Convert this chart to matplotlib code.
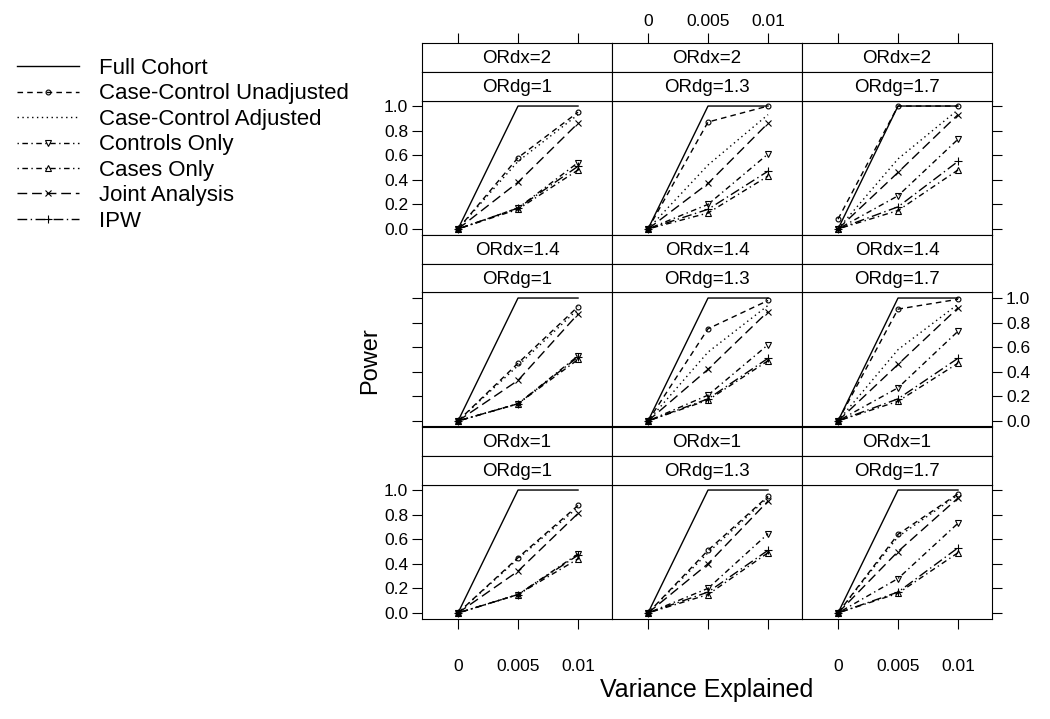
import matplotlib
matplotlib.use('Agg')
import matplotlib.pyplot as plt

plt.rcParams['font.family'] = ['Liberation Sans', 'DejaVu Sans']

# Power vs variance explained, 3x3 panels
# rows: ORdx = 2, 1.4, 1 ; cols: ORdg = 1, 1.3, 1.7

variance = [0, 0.005, 0.01]
x_ticklabels = ['0', '0.005', '0.01']
y_ticks = [0.0, 0.2, 0.4, 0.6, 0.8, 1.0]
ordx_levels = ['2', '1.4', '1']
ordg_levels = ['1', '1.3', '1.7']

full_cohort = [
    [0, 1.0, 1.0], [0, 1.0, 1.0], [0, 1.0, 1.0],
    [0, 1.0, 1.0], [0, 1.0, 1.0], [0, 1.0, 1.0],
    [0, 1.0, 1.0], [0, 1.0, 1.0], [0, 1.0, 1.0],
]
cc_unadjusted = [
    [0, 0.58, 0.95], [0, 0.87, 1.0], [0.08, 1.0, 1.0],
    [0, 0.47, 0.93], [0, 0.75, 0.98], [0, 0.91, 0.99],
    [0, 0.45, 0.875], [0, 0.51, 0.95], [0, 0.64, 0.97],
]
cc_adjusted = [
    [0, 0.55, 0.93], [0, 0.52, 0.93], [0, 0.57, 0.97],
    [0, 0.45, 0.91], [0, 0.56, 0.94], [0, 0.58, 0.95],
    [0, 0.44, 0.86], [0, 0.49, 0.94], [0, 0.62, 0.96],
]
controls_only = [
    [0, 0.17, 0.54], [0, 0.20, 0.61], [0, 0.27, 0.73],
    [0, 0.14, 0.53], [0, 0.21, 0.62], [0, 0.27, 0.73],
    [0, 0.15, 0.48], [0, 0.20, 0.645], [0, 0.28, 0.73],
]
cases_only = [
    [0, 0.16, 0.48], [0, 0.13, 0.43], [0, 0.15, 0.48],
    [0, 0.14, 0.50], [0, 0.17, 0.49], [0, 0.16, 0.47],
    [0, 0.15, 0.44], [0, 0.15, 0.49], [0, 0.16, 0.49],
]
joint_analysis = [
    [0, 0.38, 0.86], [0, 0.37, 0.86], [0, 0.46, 0.93],
    [0, 0.33, 0.87], [0, 0.42, 0.89], [0, 0.46, 0.92],
    [0, 0.34, 0.81], [0, 0.40, 0.91], [0, 0.50, 0.935],
]
ipw = [
    [0, 0.17, 0.51], [0, 0.16, 0.47], [0, 0.18, 0.55],
    [0, 0.14, 0.52], [0, 0.18, 0.51], [0, 0.18, 0.51],
    [0, 0.15, 0.47], [0, 0.17, 0.51], [0, 0.17, 0.53],
]

series = [
    ('Full Cohort', full_cohort, dict(ls='-', marker=None)),
    ('Case-Control Unadjusted', cc_unadjusted, dict(ls=(0, (4, 3)), marker='o', ms=3.5)),
    ('Case-Control Adjusted', cc_adjusted, dict(ls=(0, (1, 2.5)), marker=None)),
    ('Controls Only', controls_only, dict(ls=(0, (1, 2.5, 4, 2.5)), marker='v', ms=5)),
    ('Cases Only', cases_only, dict(ls=(0, (1, 2.5, 4, 2.5)), marker='^', ms=5)),
    ('Joint Analysis', joint_analysis, dict(ls=(0, (7, 3.5)), marker='x', ms=5)),
    ('IPW', ipw, dict(ls=(0, (7, 2.5, 1, 2.5)), marker='+', ms=6)),
]

W, H = 1050, 719
fig = plt.figure(figsize=(W / 100, H / 100), dpi=100)


def box(left, top, width, height):
    return [left / W, 1 - (top + height) / H, width / W, height / H]


def frame(ax):
    for sp in ax.spines.values():
        sp.set_linewidth(0.8)


xlim = (-0.003, 0.01283)
ylim = (-0.045, 1.045)
col_w, panel_h, strip_h, pitch = 190, 134, 29, 192
tick_fs = 12.5

handles = []
for r in range(3):
    for c in range(3):
        left = 422 + col_w * c
        top = 100.5 + pitch * r
        ax = fig.add_axes(box(left, top, col_w, panel_h))
        k = r * 3 + c
        for label, vals, st in series:
            h, = ax.plot(variance, vals[k], color='black', lw=1.0,
                         linestyle=st['ls'], marker=st['marker'],
                         ms=st.get('ms', 4), mfc='none', mew=0.8,
                         label=label)
            if k == 0:
                handles.append(h)
        ax.set_xlim(xlim)
        ax.set_ylim(ylim)
        ax.set_xticks(variance)
        ax.set_yticks(y_ticks)
        ax.tick_params(direction='out', length=7, width=0.8, labelsize=tick_fs)
        frame(ax)

        # lattice-style alternating axes
        show_left = c == 0
        show_right = c == 2
        ax.tick_params(axis='y', left=show_left, right=show_right,
                       labelleft=show_left and r != 1,
                       labelright=show_right and r == 1, pad=3)
        ax.set_yticklabels([f'{v:.1f}' for v in y_ticks])
        ax.tick_params(axis='x', bottom=(r == 2), top=False,
                       labelbottom=(r == 2 and c != 1), labeltop=False,
                       pad=22)
        ax.set_xticklabels(x_ticklabels)

        # two strips above each panel
        for i, txt in enumerate([f'ORdx={ordx_levels[r]}', f'ORdg={ordg_levels[c]}']):
            sax = fig.add_axes(box(left, top - strip_h * (2 - i), col_w, strip_h))
            sax.set_xlim(xlim)
            sax.set_yticks([])
            frame(sax)
            sax.text(0.5, 0.45, txt, transform=sax.transAxes,
                     ha='center', va='center', fontsize=13.5)
            if r == 0 and i == 0:
                sax.set_xticks(variance)
                sax.set_xticklabels(x_ticklabels)
                sax.tick_params(axis='x', bottom=False, labelbottom=False,
                                top=True, labeltop=(c == 1), direction='out',
                                length=7, width=0.8, labelsize=tick_fs, pad=3)
            else:
                sax.set_xticks([])

fig.text(370 / W, 1 - 361 / H, 'Power', rotation=90, ha='center',
         va='center', fontsize=17)
fig.text(707 / W, 1 - 690 / H, 'Variance Explained', ha='center',
         va='center', fontsize=18)

fig.legend(handles=handles, loc='upper left',
           bbox_to_anchor=(17 / W, 1 - 58 / H), frameon=False,
           fontsize=16, handlelength=2.8, handletextpad=0.9,
           labelspacing=0.2, borderpad=0, borderaxespad=0, numpoints=1)

fig.savefig('out.png', dpi=100)
